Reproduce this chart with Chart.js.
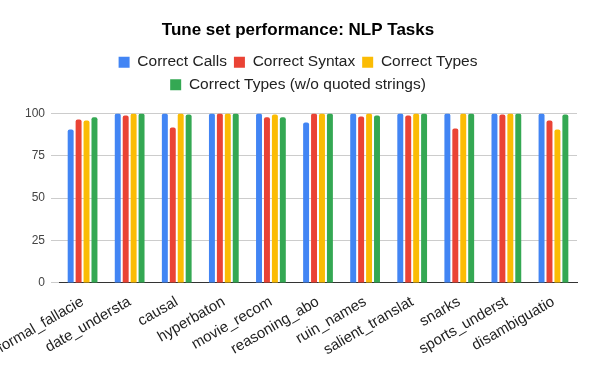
<!DOCTYPE html>
<html>
<head>
<meta charset="utf-8">
<script src="https://cdn.jsdelivr.net/npm/chart.js@4"></script>
<style>
  body { margin: 0; background: #fff; }
  #wrap { width: 600px; height: 371px; }
</style>
</head>
<body>
<div id="wrap"><canvas id="myChart"></canvas></div>
<script>
let tasks = ['formal_fallacie', 'date_understa', 'causal', 'hyperbaton', 'movie_recom', 'reasoning_abo',
    'ruin_names', 'salient_translat', 'snarks', 'sports_underst', 'disambiguatio'];

let correctCalls  = [90.5, 100, 100, 100, 100, 94.6, 100, 100, 100, 100, 100];
let correctSyntax = [96.4, 98.8, 91.7, 100, 97.8, 100, 98.2, 98.8, 91.1, 99.4, 95.8];
let correctTypes  = [95.8, 100, 100, 100, 99.4, 100, 100, 100, 100, 100, 90.5];
let correctTypesNoQuoted = [97.8, 100, 99.4, 100, 97.8, 100, 98.8, 100, 100, 100, 99.4];

let yTicks = [0, 25, 50, 75, 100];

const FONT = 'Arial, "Liberation Sans", sans-serif';

// push the plot down a bit below the legend
const legendGap = {
    id: 'legendGap',
    beforeInit(chart) {
        const fit = chart.legend.fit;
        chart.legend.fit = function () {
            fit.bind(chart.legend)();
            this.height += 11;
        };
    }
};

function bars(label, data, color) {
    return {
        label: label,
        data: data,
        backgroundColor: color,
        borderRadius: 2,
        categoryPercentage: 0.674,
        barPercentage: 0.75
    };
}

let ctx = document.getElementById('myChart').getContext('2d');

let chart = new Chart(ctx, {
    type: 'bar',
    data: {
        labels: tasks,
        datasets: [
            bars('Correct Calls', correctCalls, '#4285F4'),
            bars('Correct Syntax', correctSyntax, '#EA4335'),
            bars('Correct Types', correctTypes, '#FBBC04'),
            bars('Correct Types (w/o quoted strings)', correctTypesNoQuoted, '#34A853')
        ]
    },
    plugins: [legendGap],
    options: {
        responsive: true,
        maintainAspectRatio: false,
        animation: false,
        layout: {
            padding: { top: 12, left: 19, right: 23, bottom: 10 }
        },
        plugins: {
            title: {
                display: true,
                text: 'Tune set performance: NLP Tasks',
                color: '#000',
                font: { family: FONT, size: 17, weight: 'bold' },
                padding: { top: 8, bottom: 7 }
            },
            legend: {
                position: 'top',
                labels: {
                    color: '#222',
                    font: { family: FONT, size: 15.5 },
                    boxWidth: 11,
                    boxHeight: 11,
                    padding: 7
                }
            },
            tooltip: { enabled: false }
        },
        scales: {
            x: {
                grid: { display: false },
                border: { display: true, color: '#333', width: 1 },
                ticks: {
                    color: '#222',
                    font: { family: FONT, size: 15 },
                    minRotation: 30,
                    maxRotation: 30,
                    autoSkip: false,
                    padding: 2
                },
                afterFit(scale) {
                    scale.paddingLeft = 0;
                    scale.paddingRight = 0;
                }
            },
            y: {
                min: 0,
                max: 100,
                afterBuildTicks(scale) {
                    scale.ticks = yTicks.map(v => ({ value: v }));
                },
                grid: { color: '#ccc', tickLength: 8, tickColor: '#ccc' },
                border: { display: false },
                ticks: {
                    color: '#444',
                    font: { family: FONT, size: 12 },
                    padding: 6
                }
            }
        }
    }
});
</script>
</body>
</html>
